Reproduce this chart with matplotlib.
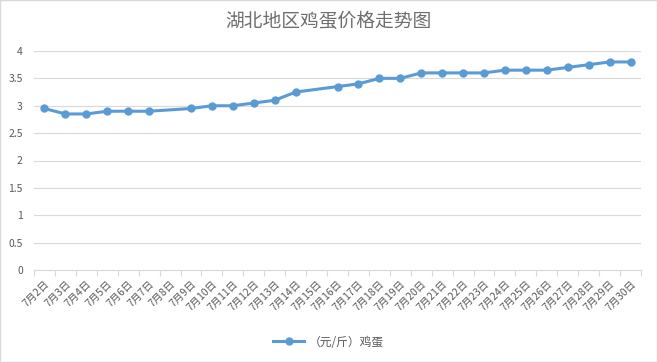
import matplotlib
matplotlib.use("Agg")
import matplotlib.pyplot as plt
import numpy as np

plt.rcParams['font.family'] = ['Noto Sans CJK SC', 'DejaVu Sans']

days = list(range(2, 31))
categories = [f"7月{d}日" for d in days]
values = [2.95, 2.85, 2.85, 2.9, 2.9, 2.9, None, 2.95, 3.0, 3.0, 3.05, 3.1, 3.25, None,
          3.35, 3.4, 3.5, 3.5, 3.6, 3.6, 3.6, 3.6, 3.65, 3.65, 3.65, 3.7, 3.75, 3.8, 3.8]
yticks = [0, 0.5, 1, 1.5, 2, 2.5, 3, 3.5, 4]
ytick_labels = ["0", "0.5", "1", "1.5", "2", "2.5", "3", "3.5", "4"]
title = "湖北地区鸡蛋价格走势图"
series_name = "（元/斤）鸡蛋"

fig = plt.figure(figsize=(6.57, 3.62), dpi=100)
ax = fig.add_axes([34/657, 1 - 270/362, (641-34)/657, (270-51)/362])

xs = [i for i, v in enumerate(values) if v is not None]
ys = [v for v in values if v is not None]
line_color = '#5B9BD5'
ax.plot(xs, ys, color=line_color, lw=2.2, marker='o', ms=5, label=series_name, zorder=3)

n = len(categories)
ax.set_xlim(-0.5, n - 0.5)
ax.set_ylim(0, 4)
ax.set_yticks(yticks)
ax.set_yticklabels(ytick_labels)
ax.set_xticks(range(n))
ax.set_xticklabels(categories, rotation=45, ha='right', rotation_mode='anchor')
ax.set_xticks(np.arange(-0.5, n, 1), minor=True)
ax.tick_params(axis='x', which='major', length=0, labelsize=7.5, colors='#595959', pad=6)
ax.tick_params(axis='x', which='minor', length=4, color='#D9D9D9', width=0.8)
ax.tick_params(axis='y', length=0, labelsize=7.5, colors='#595959', pad=8)

ax.grid(axis='y', color='#D9D9D9', lw=0.8, zorder=0)
for s in ['top', 'right', 'left']:
    ax.spines[s].set_visible(False)
ax.spines['bottom'].set_color('#D9D9D9')
ax.spines['bottom'].set_linewidth(0.8)

fig.text(0.5, 1 - 21/362, title, ha='center', va='center', fontsize=13.5, color='#6E6E6E')
leg = fig.legend(loc='center', bbox_to_anchor=(0.5, 1 - 342/362), frameon=False,
                 fontsize=8.5, handlelength=2.6, handletextpad=0.4)
for t in leg.get_texts():
    t.set_color('#595959')

border = plt.Rectangle((0, 0), 1, 1, transform=fig.transFigure, fill=False,
                       edgecolor='#D9D9D9', lw=1)
fig.patches.append(border)

fig.savefig('out.png', dpi=100)
